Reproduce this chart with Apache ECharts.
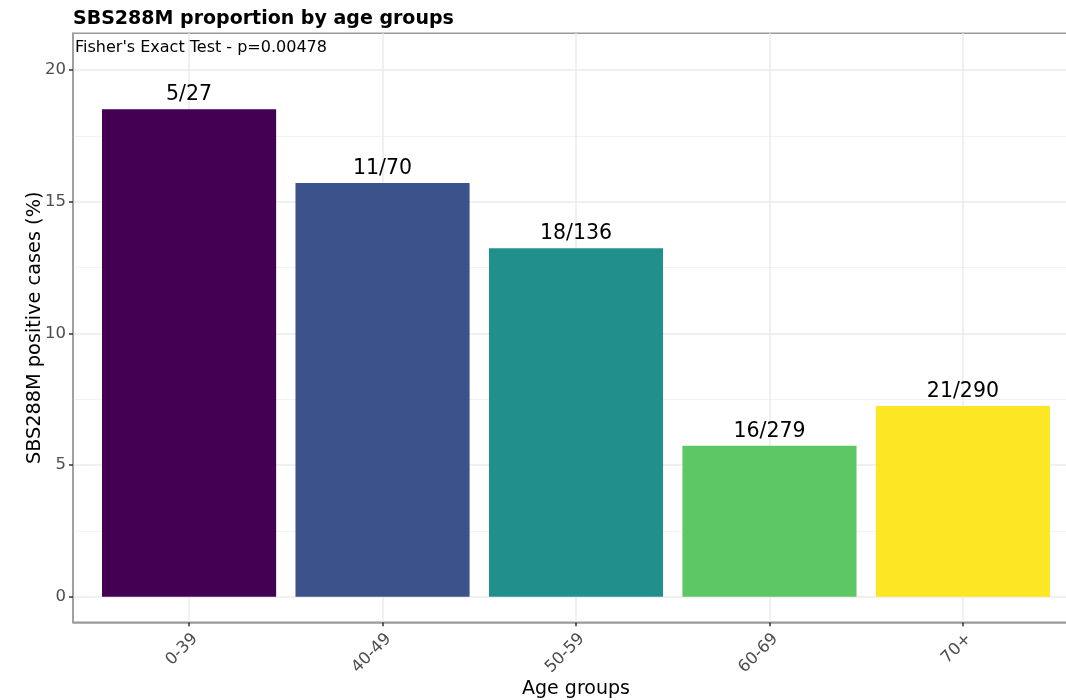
<!DOCTYPE html>
<html>
<head>
<meta charset="utf-8">
<script src="https://cdn.jsdelivr.net/npm/echarts@6/dist/echarts.min.js"></script>
<style>
  html, body { margin: 0; padding: 0; background: #ffffff; }
  #chart { width: 1066px; height: 700px; }
</style>
</head>
<body>
<div id="chart"></div>
<script>
// Age groups and SBS288M-positive counts per group
const categories = ['0-39', '40-49', '50-59', '60-69', '70+'];
const positives = [5, 11, 18, 16, 21];
const totals = [27, 70, 136, 279, 290];
const barColors = ['#440154', '#3B528B', '#21908C', '#5DC863', '#FDE725'];
const yTicks = [0, 5, 10, 15, 20];
const yMinorTicks = [2.5, 7.5, 12.5, 17.5];
const xTicks = [0, 1, 2, 3, 4];
const testLabel = "Fisher's Exact Test - p=0.00478";

const FONT = 'DejaVu Sans';

// Panel geometry
const panelLeft = 73;
const panelTop = 33.3;
const panelWidth = 1006;
const panelHeight = 589;
const xMin = -0.6, xMax = 4.6;
const yMin = -0.97, yMax = 21.4;
const barWidthPx = 0.9 * panelWidth / (xMax - xMin);

const barData = categories.map((c, i) => ({
  value: [i, positives[i] / totals[i] * 100],
  itemStyle: { color: barColors[i] },
  label: { formatter: positives[i] + '/' + totals[i] }
}));

const chart = echarts.init(document.getElementById('chart'), null, { renderer: 'canvas' });

chart.setOption({
  animation: false,
  backgroundColor: '#ffffff',
  textStyle: { fontFamily: FONT },
  title: [
    {
      text: 'SBS288M proportion by age groups',
      left: 68, top: 5,
      textStyle: { fontFamily: FONT, fontWeight: 'bold', fontSize: 19, color: '#000000' }
    },
    {
      text: testLabel,
      left: 70, top: 35,
      textStyle: { fontFamily: FONT, fontWeight: 'normal', fontSize: 16, color: '#000000' }
    }
  ],
  grid: {
    left: panelLeft, top: panelTop, width: panelWidth, height: panelHeight,
    outerBoundsMode: 'none',
    containLabel: false,
    show: true,
    backgroundColor: 'transparent',
    borderColor: '#9a9a9a',
    borderWidth: 1.5
  },
  xAxis: {
    type: 'value',
    min: xMin, max: xMax,
    name: 'Age groups',
    nameLocation: 'middle',
    nameGap: 57,
    nameMoveOverlap: false,
    nameTextStyle: { fontFamily: FONT, fontSize: 19, color: '#000000' },
    axisLine: { show: true, onZero: false, lineStyle: { color: '#9a9a9a', width: 1.5 } },
    axisTick: { show: true, customValues: xTicks, length: 4, lineStyle: { color: '#333333', width: 1.5 } },
    axisLabel: {
      customValues: xTicks,
      rotate: 45,
      margin: 8,
      verticalAlign: 'top',
      fontFamily: FONT, fontSize: 16.5, color: '#4d4d4d',
      formatter: v => categories[Math.round(v)]
    },
    splitLine: { show: true, lineStyle: { color: '#ebebeb', width: 1.5 } }
  },
  yAxis: [
    {
      type: 'value',
      min: yMin, max: yMax,
      name: 'SBS288M positive cases (%)',
      nameLocation: 'middle',
      nameGap: 29,
      nameRotate: 90,
      nameMoveOverlap: false,
      nameTextStyle: { fontFamily: FONT, fontSize: 19.3, color: '#000000' },
      axisLine: { show: true, onZero: false, lineStyle: { color: '#9a9a9a', width: 1.5 } },
      axisTick: { show: true, customValues: yTicks, length: 4, lineStyle: { color: '#333333', width: 1.5 } },
      axisLabel: { customValues: yTicks, margin: 7, fontFamily: FONT, fontSize: 16.5, color: '#4d4d4d' },
      splitLine: { show: true, lineStyle: { color: '#ebebeb', width: 1.5 } }
    },
    {
      type: 'value',
      min: yMin, max: yMax,
      position: 'left',
      axisLine: { show: false },
      axisTick: { show: false, customValues: yMinorTicks },
      axisLabel: { show: false, customValues: yMinorTicks },
      splitLine: { show: true, lineStyle: { color: '#f3f3f3', width: 1 } }
    }
  ],
  series: [
    {
      type: 'bar',
      xAxisIndex: 0,
      yAxisIndex: 0,
      barWidth: barWidthPx,
      data: barData,
      label: {
        show: true,
        position: 'top',
        distance: 4,
        fontFamily: FONT,
        fontSize: 20.5,
        color: '#000000'
      }
    }
  ]
});
</script>
</body>
</html>
